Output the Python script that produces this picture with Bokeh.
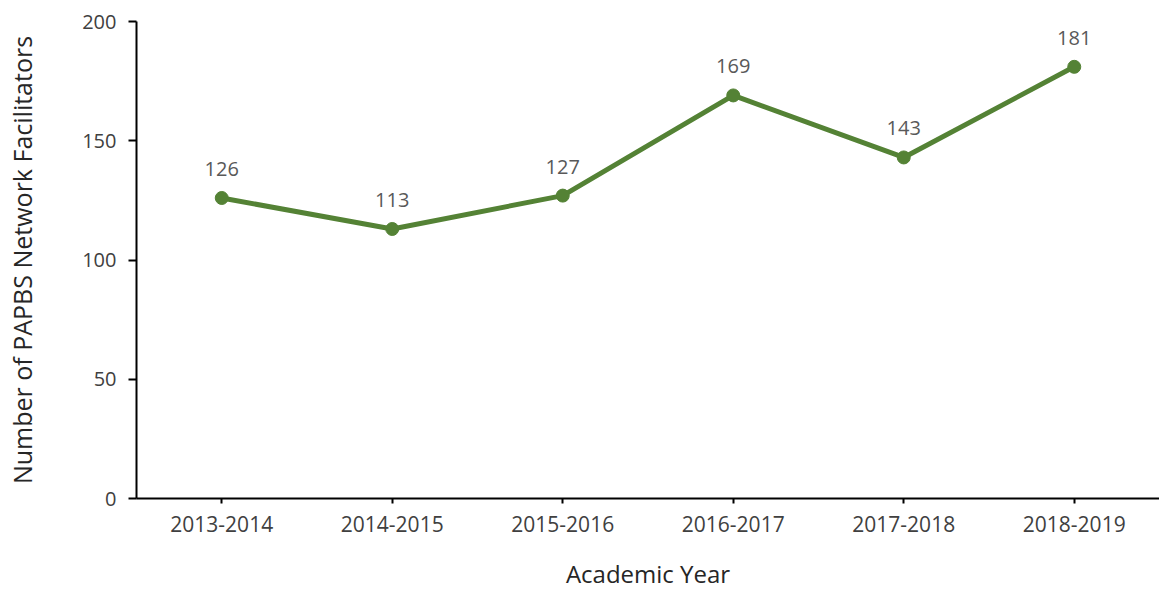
from bokeh.plotting import figure
from bokeh.models import ColumnDataSource, FactorRange, Range1d, LabelSet, FixedTicker
from bokeh.core.properties import value
from bokeh.embed import file_html
from bokeh.resources import INLINE

years = ["2013-2014", "2014-2015", "2015-2016", "2016-2017", "2017-2018", "2018-2019"]
facilitators = [126, 113, 127, 169, 143, 181]
y_ticks = [0, 50, 100, 150, 200]

src = ColumnDataSource(dict(x=years, y=facilitators, lbl=[str(v) for v in facilitators]))

FONT = "Open Sans"
GREEN = "#548235"

p = figure(x_range=FactorRange(*years, range_padding=0), y_range=Range1d(0, 200),
           width=1159, height=590, output_backend="svg", toolbar_location=None,
           min_border_left=136, min_border_right=0, min_border_top=21, min_border_bottom=92)
p.frame_width = 1023
p.frame_height = 477
p.outline_line_color = None
p.xgrid.visible = False
p.ygrid.visible = False

p.line("x", "y", source=src, line_color=GREEN, line_width=5)
p.scatter("x", "y", source=src, size=13, fill_color=GREEN, line_color=GREEN)

labels = LabelSet(x="x", y="y", text="lbl", source=src, text_align="center",
                  text_baseline="bottom", y_offset=22, text_font=value(FONT),
                  text_font_size="20px", text_color="#595959")
p.add_layout(labels)

for ax in (p.xaxis[0], p.yaxis[0]):
    ax.axis_line_color = "black"
    ax.axis_line_width = 2
    ax.major_tick_line_color = "black"
    ax.major_tick_line_width = 2
    ax.minor_tick_line_color = None
    ax.major_label_text_font = FONT
    ax.major_label_text_font_size = "20px"
    ax.major_label_text_color = "#404040"
    ax.axis_label_text_font = FONT
    ax.axis_label_text_font_size = "25px"
    ax.axis_label_text_font_style = "normal"
    ax.axis_label_text_color = "#262626"

p.xaxis.major_label_text_font_size = "21px"
p.xaxis.axis_label_text_font_size = "24px"

p.yaxis.ticker = FixedTicker(ticks=y_ticks)
p.yaxis.major_tick_in = 0
p.yaxis.major_tick_out = 8
p.yaxis.major_label_standoff = 12
p.yaxis.axis_label = "Number of PAPBS Network Facilitators"
p.yaxis.axis_label_standoff = 40

p.xaxis.major_tick_in = 0
p.xaxis.major_tick_out = 5
p.xaxis.major_label_standoff = 12
p.xaxis.axis_label = "Academic Year"
p.xaxis.axis_label_standoff = 22

open("out.html", "w").write(file_html(p, INLINE))
